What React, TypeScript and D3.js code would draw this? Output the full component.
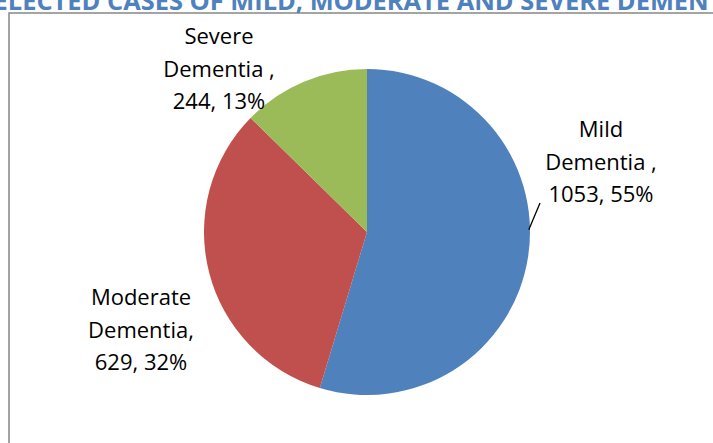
import React, { useEffect, useRef } from "react";
import * as d3 from "d3";

const categories = ["Mild Dementia", "Moderate Dementia", "Severe Dementia"];
const counts = [1053, 629, 244];
const percents = ["55%", "32%", "13%"];
const labelLines = [
  ["Mild", "Dementia ,", "1053, 55%"],
  ["Moderate", "Dementia,", "629, 32%"],
  ["Severe", "Dementia ,", "244, 13%"],
];
const colors = ["#4F81BD", "#C0504D", "#9BBB59"];
const title = "SELECTED CASES OF MILD, MODERATE AND SEVERE DEMENTIA";

const width = 713;
const height = 443;
const cx = 367;
const cy = 232;
const radius = 163;

// label centres (x) and first baseline (y)
const labelPos = [
  { x: 601, y: 137 },
  { x: 141, y: 305 },
  { x: 219, y: 44 },
];

const App: React.FC = () => {
  const svgRef = useRef<SVGSVGElement | null>(null);

  useEffect(() => {
    const svg = d3.select(svgRef.current);
    svg.selectAll("*").remove();

    // frame
    svg.append("rect")
      .attr("x", 9)
      .attr("y", 13)
      .attr("width", 760)
      .attr("height", 500)
      .attr("fill", "white")
      .attr("stroke", "#868686")
      .attr("stroke-width", 1.5);

    // title, clipped at the top of the picture as in the source image
    const t = svg.append("text")
      .attr("y", 10)
      .attr("fill", "#4F81BD")
      .style("font-family", "'Open Sans', sans-serif")
      .style("font-weight", "bold")
      .style("font-size", "20px")
      .text(title);
    const node = t.node() as SVGTextElement;
    const iC = title.indexOf("CASES");
    const iD = title.indexOf("DEMENT");
    const offC = node.getSubStringLength(0, iC);
    const offD = node.getSubStringLength(0, iD);
    const k = 510 / (offD - offC);
    t.style("font-size", `${20 * k}px`).attr("x", 107 - offC * k);

    const pie = d3.pie<number>().sort(null).value((d) => d);
    const arcs = pie(counts);
    const arc = d3.arc<d3.PieArcDatum<number>>().innerRadius(0).outerRadius(radius);

    const g = svg.append("g").attr("transform", `translate(${cx},${cy})`);
    g.selectAll("path")
      .data(arcs)
      .enter()
      .append("path")
      .attr("d", arc)
      .attr("fill", (_, i) => colors[i]);

    // leader line for the mild slice
    const a = 1.52;
    svg.append("line")
      .attr("x1", cx + radius * Math.sin(a) - 1)
      .attr("y1", cy - radius * Math.cos(a) + 6)
      .attr("x2", 540)
      .attr("y2", 203)
      .attr("stroke", "black")
      .attr("stroke-width", 1.3);

    labelLines.forEach((lines, i) => {
      const txt = svg.append("text")
        .attr("text-anchor", "middle")
        .attr("fill", "black")
        .attr("aria-label", `${categories[i]}, ${counts[i]}, ${percents[i]}`)
        .style("font-family", "'Open Sans', sans-serif")
        .style("font-size", "22px");
      lines.forEach((line, j) => {
        txt.append("tspan")
          .attr("x", labelPos[i].x)
          .attr("y", labelPos[i].y + j * 32.5)
          .text(line);
      });
    });
  }, []);

  return (
    <div style={{ position: "absolute", left: 0, top: 0, width, height, overflow: "hidden", background: "white" }}>
      <svg ref={svgRef} width={width} height={height} style={{ display: "block" }} />
    </div>
  );
};

export default App;
